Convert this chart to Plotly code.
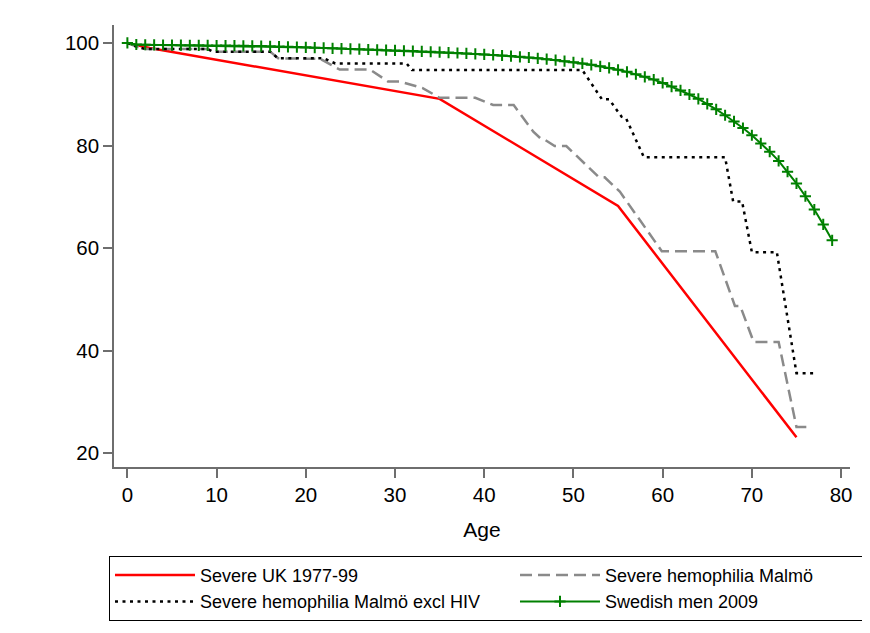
import plotly.graph_objects as go

# ---------------- data ----------------
uk_age = [0, 2.5, 35, 55, 75]
uk_surv = [100, 99.0, 89.1, 68.2, 23.1]

malmo_age = [0, 1, 2, 9, 9.6, 16, 16.9, 21.6, 23.8, 27.2, 29.2, 30.5, 33.1, 35, 39,
             41, 43.3, 45.5, 46.3, 46.8, 47.9, 49.2, 52.8, 53.5, 55.2, 59.9, 65.9,
             68.1, 68.7, 70.2, 73.0, 75.0, 76.5]
malmo_surv = [100, 99.3, 98.8, 98.8, 98.3, 98.3, 97.0, 96.9, 94.8, 94.8, 92.5, 92.5, 91.2, 89.3, 89.3,
              87.9, 87.9, 82.7, 81.4, 81.1, 79.9, 79.9, 73.9, 73.8, 71.0, 59.4, 59.4,
              48.7, 48.7, 41.7, 41.7, 25.1, 25.1]

nohiv_age = [0, 1, 2, 9, 9.6, 16, 16.9, 22.0, 23.3, 31.3, 31.9, 51.0, 53.2, 54.0, 55.4, 55.9,
             57.9, 67.0, 67.9, 68.9, 70.0, 72.8, 75.0, 76.9]
nohiv_surv = [100, 99.3, 98.8, 98.8, 98.3, 98.3, 97.0, 97.0, 96.0, 96.0, 94.7, 94.7, 89.0, 89.0, 85.6, 85.3,
              77.7, 77.7, 69.1, 69.1, 59.2, 59.2, 35.6, 35.6]

swe_age = list(range(0, 80))
swe_surv = [100, 99.7, 99.65, 99.62, 99.6, 99.58, 99.56, 99.55, 99.54, 99.52,
            99.5, 99.48, 99.46, 99.44, 99.42, 99.39, 99.35, 99.3, 99.25, 99.2,
            99.14, 99.08, 99.02, 98.96, 98.9, 98.84, 98.78, 98.72, 98.66, 98.6,
            98.54, 98.48, 98.42, 98.35, 98.28, 98.2, 98.12, 98.04, 97.95, 97.86,
            97.77, 97.66, 97.55, 97.43, 97.3, 97.16, 97.0, 96.83, 96.65, 96.45,
            96.23, 96.0, 95.74, 95.45, 95.12, 94.76, 94.36, 93.9, 93.4, 92.85,
            92.2, 91.5, 90.75, 89.95, 89.1, 88.1, 87.05, 85.9, 84.7, 83.4,
            82.0, 80.4, 78.8, 77.0, 74.9, 72.6, 70.1, 67.5, 64.6, 61.5]

x_ticks = [0, 10, 20, 30, 40, 50, 60, 70, 80]
y_ticks = [20, 40, 60, 80, 100]

names = ["Severe UK 1977-99", "Severe hemophilia Malmö",
         "Severe hemophilia Malmö excl HIV", "Swedish men 2009"]

FONT = "Liberation Sans, Arial, Helvetica, sans-serif"

fig = go.Figure()
fig.add_trace(go.Scatter(x=uk_age, y=uk_surv, mode="lines", name=names[0],
                         line=dict(color="#ff0000", width=2.5)))
fig.add_trace(go.Scatter(x=malmo_age, y=malmo_surv, mode="lines", name=names[1],
                         line=dict(color="#8a8a8a", width=2.5, dash="12px,6px")))
fig.add_trace(go.Scatter(x=nohiv_age, y=nohiv_surv, mode="lines", name=names[2],
                         line=dict(color="#000000", width=2.5, dash="3px,4.5px")))
fig.add_trace(go.Scatter(x=swe_age, y=swe_surv, mode="lines+markers", name=names[3],
                         line=dict(color="#008000", width=2),
                         marker=dict(symbol="cross-thin", size=8,
                                     line=dict(color="#008000", width=2))))

axis_color = "#6e6e6e"
fig.update_layout(
    width=870, height=633,
    margin=dict(l=106, r=28, t=17, b=174, autoexpand=False),
    paper_bgcolor="white", plot_bgcolor="white",
    font=dict(family=FONT, color="black"),
    showlegend=True,
    legend=dict(orientation="h", x=-0.0068, y=-0.201, xanchor="left", yanchor="top",
                bordercolor="black", borderwidth=1, bgcolor="white",
                font=dict(size=18, family=FONT), itemwidth=80,
                entrywidth=310, traceorder="normal"),
    xaxis=dict(range=[-1.5, 81], tickvals=x_ticks, ticktext=[str(v) for v in x_ticks],
               showgrid=False, zeroline=False, showline=True, linecolor=axis_color,
               linewidth=1.5, ticks="outside", ticklen=9, tickwidth=1.5, tickcolor=axis_color,
               tickfont=dict(size=20.5), title=dict(text="Age", font=dict(size=21), standoff=17),
               automargin=False),
    yaxis=dict(range=[17.3, 103.5], tickvals=y_ticks, ticktext=[str(v) for v in y_ticks],
               showgrid=False, zeroline=False, showline=True, linecolor=axis_color,
               linewidth=1.5, ticks="outside", ticklen=9, tickwidth=1.5, tickcolor=axis_color,
               tickfont=dict(size=20.5), automargin=False),
)

fig.write_html("out.html")
